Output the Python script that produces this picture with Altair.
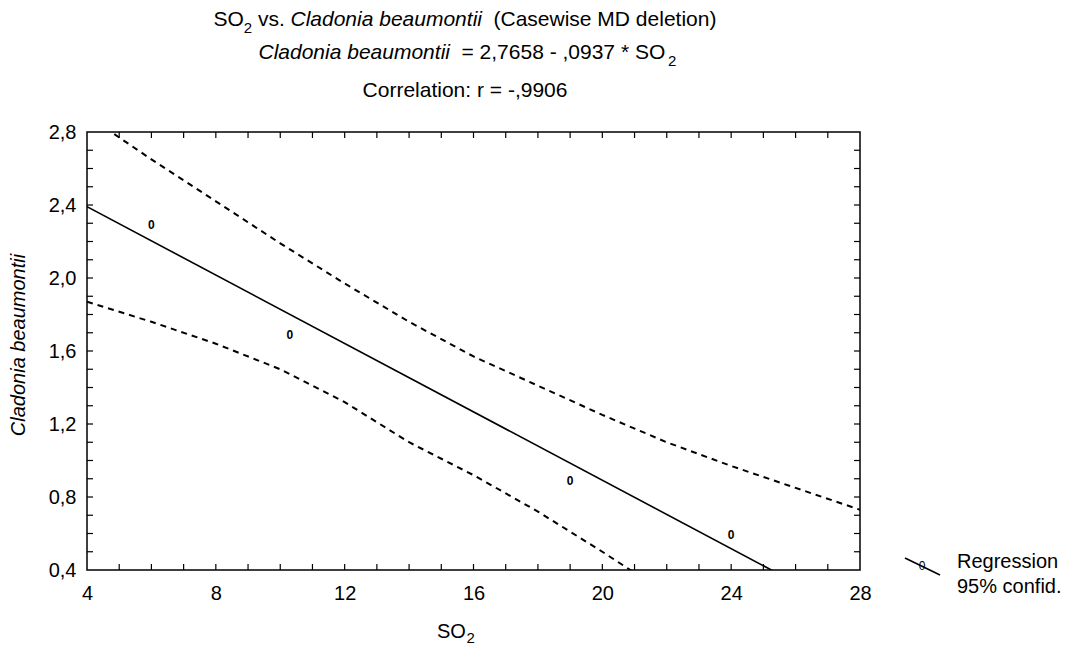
import altair as alt
import pandas as pd

# ---- data ----
so2 = [6.0, 10.3, 19.0, 24.0]
clad = [2.29, 1.69, 0.89, 0.59]

# fitted line  Cladonia = 2.7658 - 0.0937*SO2, evaluated at the axis ends
reg_x = [4, 28]
reg_y = [2.3910, 0.1422]

# 95% confidence band
upper_x = [4, 6, 8, 10, 12, 14, 16, 18, 20, 22, 24, 26, 28]
upper_y = [2.89, 2.65, 2.42, 2.19, 1.97, 1.76, 1.57, 1.41, 1.25, 1.10, 0.97, 0.85, 0.73]
lower_x = [4, 6, 8, 10, 12, 14, 16, 18, 20, 22]
lower_y = [1.87, 1.76, 1.64, 1.50, 1.32, 1.10, 0.92, 0.72, 0.50, 0.27]

x_labels = [4, 8, 12, 16, 20, 24, 28]
y_labels = [0.4, 0.8, 1.2, 1.6, 2.0, 2.4, 2.8]
x_minor = list(range(5, 28))
y_minor = [round(0.5 + 0.1 * i, 1) for i in range(23)]

W, H = 773, 438
FONT = "Liberation Sans"

xs = alt.Scale(domain=[4, 28], nice=False, zero=False)
ys = alt.Scale(domain=[0.4, 2.8], nice=False, zero=False)

pts_df = pd.DataFrame({"so2": so2, "clad": clad})
reg_df = pd.DataFrame({"x": reg_x, "y": reg_y})
up_df = pd.DataFrame({"x": upper_x, "y": upper_y})
lo_df = pd.DataFrame({"x": lower_x, "y": lower_y})
xm_df = pd.DataFrame({"v": x_minor})
ym_df = pd.DataFrame({"v": y_minor})

comma = "replace(format(datum.value, '.1f'), '.', ',')"

pts = alt.Chart(pts_df).mark_text(
    text="0", fontSize=12, fontWeight="bold", font=FONT, color="black",
    baseline="middle", align="center"
).encode(
    x=alt.X("so2:Q", scale=xs, axis=alt.Axis(
        values=x_labels, format="d", ticks=False, domain=False, grid=False,
        labelFontSize=20, labelFont=FONT, labelColor="black", labelPadding=13,
        labelFlush=False, labelOverlap=False, title=None)),
    y=alt.Y("clad:Q", scale=ys, axis=alt.Axis(
        values=y_labels, labelExpr=comma, ticks=False, domain=False, grid=False,
        labelFontSize=20, labelFont=FONT, labelColor="black", labelPadding=11,
        labelFlush=False, labelOverlap=False, title=None)),
)

reg = alt.Chart(reg_df).mark_line(color="black", strokeWidth=1.6, clip=True).encode(
    x=alt.X("x:Q", scale=xs, axis=None),
    y=alt.Y("y:Q", scale=ys, axis=None),
)

def band(df):
    return alt.Chart(df).mark_line(
        color="black", strokeWidth=2, strokeDash=[6, 5], clip=True
    ).encode(
        x=alt.X("x:Q", scale=xs, axis=None),
        y=alt.Y("y:Q", scale=ys, axis=None),
    )

# inward minor ticks on all four sides of the frame
def xticks(ypix):
    return alt.Chart(xm_df).mark_tick(
        orient="vertical", size=6, thickness=1.2, color="black", opacity=1
    ).encode(x=alt.X("v:Q", scale=xs, axis=None), y=alt.value(ypix))

def yticks(xpix):
    return alt.Chart(ym_df).mark_tick(
        orient="horizontal", size=6, thickness=1.2, color="black", opacity=1
    ).encode(y=alt.Y("v:Q", scale=ys, axis=None), x=alt.value(xpix))

def txt(s, x, y, size=21, style="normal", align="left", baseline="alphabetic", angle=0):
    return alt.Chart(alt.Data(values=[{"a": 1}])).mark_text(
        text=s, fontSize=size, fontStyle=style, font=FONT, align=align,
        baseline=baseline, angle=angle, color="black"
    ).encode(x=alt.value(x), y=alt.value(y))

texts = [
    # title line 1
    txt("SO", 126.5, -106),
    txt("2", 156.8, -99, size=15),
    txt("vs.", 170.9, -106),
    txt("Cladonia beaumontii", 203.5, -106, style="italic"),
    txt("(Casewise MD deletion)", 406.5, -106),
    # title line 2
    txt("Cladonia beaumontii", 171.5, -73, style="italic"),
    txt("= 2,7658 - ,0937 * SO", 374.5, -73),
    txt("2", 581, -66, size=15),
    # title line 3
    txt("Correlation: r = -,9906", 378, -35, align="center"),
    # axis titles
    txt("Cladonia beaumontii", -68, 213, size=20, style="italic",
        align="center", baseline="middle", angle=270),
    txt("SO", 350, 506, size=20),
    txt("2", 379.5, 511, size=15),
    # legend
    txt("Regression", 870, 436, size=20),
    txt("95% confid.", 870, 461, size=20),
    txt("0", 835, 434, size=12, align="center", baseline="middle"),
]

legend_line = alt.Chart(alt.Data(values=[{"a": 1}])).mark_rule(
    color="black", strokeWidth=1.6
).encode(x=alt.value(818), x2=alt.value(853), y=alt.value(426), y2=alt.value(443))

chart = alt.layer(
    band(lo_df), band(up_df), reg,
    xticks(H - 3), xticks(3), yticks(3), yticks(W - 3),
    pts, legend_line, *texts
).resolve_axis(x="independent", y="independent").properties(
    width=W, height=H,
    autosize=alt.AutoSizeParams(type="none"),
    padding={"left": 79, "top": 124, "right": 206, "bottom": 80},
    background="white",
).configure_view(stroke="black", strokeWidth=1.5)

chart.save("out.html", embed_options={"renderer": "svg", "actions": False})
